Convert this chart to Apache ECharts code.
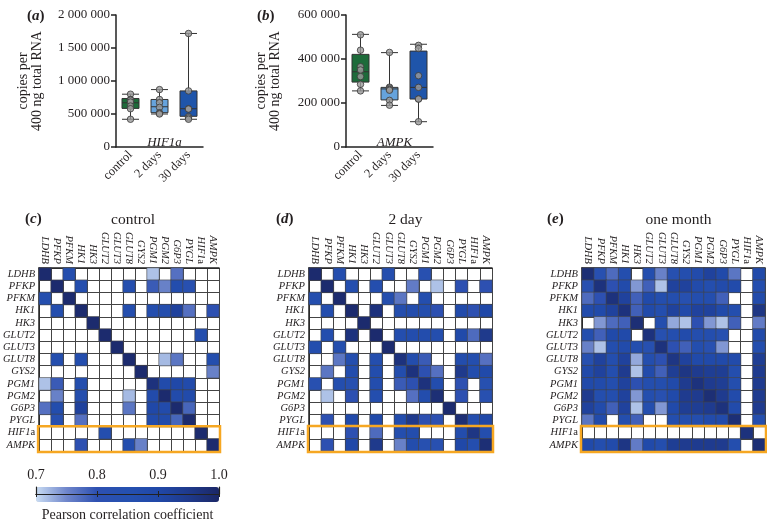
<!DOCTYPE html>
<html><head><meta charset="utf-8">
<script src="https://cdn.jsdelivr.net/npm/echarts@6/dist/echarts.min.js"></script>
<style>html,body{margin:0;padding:0;background:#fff}#c{width:767px;height:523px}</style>
</head><body><div id="c"></div>
<script>
const _ = null;
const genes = ['LDHB','PFKP','PFKM','HK1','HK3','GLUT2','GLUT3','GLUT8','GYS2','PGM1','PGM2','G6P3','PYGL','HIF1a','AMPK'];
const groups = ['control','2 days','30 days'];
// boxplot stats: [min, Q1, median, Q3, max]
const hif1aBox = [[420000,585000,670000,735000,800000],[500000,520000,610000,720000,870000],[420000,465000,580000,850000,1720000]];
const hif1aPoints = [[800000,720000,710000,680000,620000,580000,420000],[870000,720000,670000,600000,520000,510000,500000],[1720000,850000,580000,575000,460000,440000,420000]];
const ampkBox = [[255000,295000,342000,421000,512000],[189000,214000,264000,271000,429000],[115000,218000,271000,436000,467000]];
const ampkPoints = [[510000,440000,365000,350000,320000,285000,255000],[430000,272000,268000,262000,258000,212000,190000],[462000,448000,324000,271000,218000,218000,115000]];
const hif1aTicks = [0,500000,1000000,1500000,2000000];
const ampkTicks = [0,200000,400000,600000];
const cbTicks = [0.7,0.8,0.9,1.0];

const controlCorr = [
[.99,_,.86,_,_,_,_,_,_,.715,_,.77,_,_,_],
[_,.99,_,.86,_,_,_,.86,_,.79,.755,.87,.83,_,_],
[.86,_,.99,_,_,_,_,_,_,_,_,_,_,_,_],
[_,.86,_,.99,_,_,_,.86,_,.86,.86,.92,.77,_,.8],
[_,_,_,_,.99,_,_,_,_,_,_,_,_,_,_],
[_,_,_,_,_,.99,_,_,_,_,_,_,_,.86,_],
[_,_,_,_,_,_,.99,_,_,_,_,_,_,_,_],
[_,.86,_,.86,_,_,_,.99,_,_,.72,.765,_,_,.86],
[_,_,_,_,_,_,_,_,.99,_,_,_,_,_,.755],
[.715,.79,_,.86,_,_,_,_,_,.97,.88,.9,.88,_,_],
[_,.755,_,.86,_,_,_,.72,_,.88,.99,.88,.88,_,_],
[.77,.87,_,.92,_,_,_,.765,_,.9,.88,.99,.78,_,_],
[_,.83,_,.77,_,_,_,_,_,.88,.88,.78,.99,_,_],
[_,_,_,_,_,.86,_,_,_,_,_,_,_,.99,_],
[_,_,_,.8,_,_,_,.86,.755,_,_,_,_,_,.99]
];
const day2Corr = [
[.99,_,.86,_,_,_,.86,_,_,.83,_,_,_,_,_],
[_,.99,_,.86,_,.86,_,_,.76,_,.715,_,.8,_,.8],
[.86,_,.99,_,_,_,.86,.765,_,.86,_,_,_,_,_],
[_,.86,_,.99,_,.97,_,.86,.87,.86,.8,_,.88,.8,.9],
[_,_,_,_,.99,_,_,_,_,_,_,_,_,_,_],
[_,.86,_,.97,_,.99,_,.86,.87,.87,.86,_,.89,.775,.95],
[.86,_,.86,_,_,_,.99,_,_,_,_,_,_,_,_],
[_,_,.765,.86,_,.86,_,.97,.87,.79,_,_,.87,.86,.77],
[_,.765,_,.87,_,.87,_,.87,.97,.8,.77,_,.95,.87,.89],
[.83,_,.86,.84,_,.87,_,.79,.8,.97,.87,_,.8,_,.84],
[_,.715,_,.8,_,.86,_,_,.77,.87,.98,_,.8,_,.83],
[_,_,_,_,_,_,_,_,_,_,_,.99,_,_,_],
[_,.8,_,.89,_,.89,_,.87,.95,.8,.8,_,.98,.86,.9],
[_,_,_,.8,_,.775,_,.86,.87,_,_,_,.87,.96,.86],
[_,.8,_,.9,_,.95,_,.755,.87,.84,.83,_,.9,.86,.98]
];
const monthCorr = [
[.98,.83,.775,.86,_,.86,.755,.84,.86,.88,.92,.89,.765,_,.89],
[.83,.97,.8,.88,.74,.785,.715,.92,.92,.88,.86,.88,.88,_,.86],
[.775,.8,.97,.92,.785,.89,.86,.86,.84,.86,.86,.785,_,_,.88],
[.88,.89,.92,.97,.785,.89,.86,.92,.89,.92,.92,.89,.86,_,.96],
[_,.74,.775,.785,.98,_,.86,.73,.715,.8,.74,.715,.785,_,.76],
[.86,.785,.89,.89,_,.97,.84,.86,.88,.86,.86,.84,_,_,.89],
[.755,.715,.86,.88,.86,.84,.97,.8,.785,.86,.83,.74,_,_,.86],
[.84,.92,.86,.92,.73,.86,.8,.96,.92,.89,.89,.89,.88,_,.935],
[.89,.92,.86,.945,.715,.88,.785,.935,.96,.945,.935,.935,.86,_,.945],
[.89,.88,.86,.92,.8,.86,.86,.89,.945,.97,.945,.935,.86,_,.945],
[.945,.86,.86,.92,.74,.86,.83,.89,.945,.945,.98,.945,.88,_,.945],
[.92,.88,.785,.92,.715,.86,.74,.89,.935,.935,.945,.97,.88,_,.945],
[.765,.88,_,.86,.785,_,_,.86,.86,.86,.88,.88,.98,_,.86],
[_,_,_,_,_,_,_,_,_,_,_,_,_,.97,_],
[.89,.86,.88,.96,.76,.89,.86,.935,.945,.945,.945,.945,.86,_,.98]
];
const panels = [
  {mat: controlCorr, title: 'control', letter: 'c'},
  {mat: day2Corr, title: '2 day', letter: 'd'},
  {mat: monthCorr, title: 'one month', letter: 'e'}
];

const SERIF = 'Liberation Serif';
const TXT = '#231f20';
const boxColors = ['#1d6b3a','#66a3dc','#1f55aa'];
const fmtSpace = v => String(v).replace(/\B(?=(\d{3})+(?!\d))/g, ' ');

const chart = echarts.init(document.getElementById('c'), null, {renderer: 'canvas'});

const heatGrids = [
  {left: 37, top: 268, width: 182, height: 183},
  {left: 309, top: 268, width: 183, height: 183},
  {left: 582, top: 268, width: 183, height: 183}
];
const boxGrids = [
  {left: 116, top: 15, width: 87, height: 132},
  {left: 346, top: 15, width: 87, height: 132}
];
const cbGrid = {left: 36, top: 487, width: 183, height: 15};

const grid = [...boxGrids, ...heatGrids, cbGrid];
const xAxis = [], yAxis = [], series = [], title = [];

// box plots
const boxDefs = [
  {box: hif1aBox, pts: hif1aPoints, max: 2000000, interval: 500000, gene: 'HIF1a', nameGap: 72, letter: 'a', lx: 27},
  {box: ampkBox, pts: ampkPoints, max: 600000, interval: 200000, gene: 'AMPK', nameGap: 64, letter: 'b', lx: 257}
];
boxDefs.forEach((d, k) => {
  xAxis.push({gridIndex: k, type: 'category', data: groups,
    axisLine: {lineStyle: {color: '#222', width: 1.5}},
    axisTick: {alignWithLabel: true, length: 5, lineStyle: {color: '#222', width: 1.5}},
    axisLabel: {rotate: 45, margin: 6, fontFamily: SERIF, fontSize: 12.5, color: TXT, interval: 0}});
  yAxis.push({gridIndex: k, type: 'value', min: 0, max: d.max, interval: d.interval,
    axisLine: {show: true, lineStyle: {color: '#222', width: 1.5}},
    axisTick: {show: true, length: 5, lineStyle: {color: '#222', width: 1.5}},
    splitLine: {show: false},
    axisLabel: {formatter: fmtSpace, fontFamily: SERIF, fontSize: 13, color: TXT, margin: 6},
    name: 'copies per\n400 ng total RNA', nameLocation: 'middle', nameGap: d.nameGap, nameRotate: 90,
    nameTextStyle: {fontFamily: SERIF, fontSize: 14, color: TXT, lineHeight: 14}});
  series.push({type: 'boxplot', xAxisIndex: k, yAxisIndex: k, boxWidth: [17, 17],
    data: d.box.map((b, i) => ({value: b, itemStyle: {color: boxColors[i], borderColor: '#333', borderWidth: 1}})),
    emphasis: {disabled: true}, z: 2});
  const pdata = [];
  d.pts.forEach((arr, i) => arr.forEach(v => pdata.push([groups[i], v])));
  series.push({type: 'scatter', xAxisIndex: k, yAxisIndex: k, data: pdata, symbolSize: 6.5,
    itemStyle: {color: '#9b9b9b', borderColor: '#3a3a3a', borderWidth: 1}, z: 5, emphasis: {disabled: true}});
  const g = boxGrids[k];
  title.push({text: d.gene, left: g.left + g.width / 2, top: g.top + g.height - 16, textAlign: 'center',
    textStyle: {fontFamily: SERIF, fontStyle: 'italic', fontWeight: 'normal', fontSize: 13, color: TXT}});
  title.push({text: '{n|(}{i|' + d.letter + '}{n|)}', left: d.lx - 5, top: 4,
    textStyle: {rich: {n: {fontFamily: SERIF, fontSize: 15, color: TXT}, i: {fontFamily: SERIF, fontStyle: 'italic', fontSize: 15, color: TXT}}}});
});

// heatmaps
const labelFmt = v => v === 'HIF1a' ? '{i|HIF1}{n|a}' : '{i|' + v + '}';
const labelRich = {i: {fontFamily: SERIF, fontStyle: 'italic', fontSize: 10.5, color: TXT}, n: {fontFamily: SERIF, fontSize: 10.5, color: TXT}};
panels.forEach((p, k) => {
  const gi = k + 2;
  xAxis.push({gridIndex: gi, type: 'category', data: genes, position: 'top',
    axisLine: {show: true, lineStyle: {color: '#222', width: 1.5}}, axisTick: {show: false},
    splitLine: {show: true, interval: 0, lineStyle: {color: '#444', width: 1}},
    axisLabel: {rotate: 90, interval: 0, margin: 4, formatter: labelFmt, rich: labelRich}});
  yAxis.push({gridIndex: gi, type: 'category', data: genes, inverse: true,
    axisLine: {show: true, lineStyle: {color: '#222', width: 1.5}}, axisTick: {show: false},
    splitLine: {show: true, interval: 0, lineStyle: {color: '#444', width: 1}},
    axisLabel: {interval: 0, margin: 4, formatter: labelFmt, rich: labelRich}});
  const data = [];
  p.mat.forEach((row, i) => row.forEach((v, j) => { if (v !== null) data.push([j, i, v]); }));
  series.push({type: 'heatmap', xAxisIndex: gi, yAxisIndex: gi, data: data,
    itemStyle: {borderColor: '#444', borderWidth: 0.6}, emphasis: {disabled: true}});
  const g = heatGrids[k];
  title.push({text: p.title, left: g.left + g.width / 2, top: 207, textAlign: 'center',
    textStyle: {fontFamily: SERIF, fontWeight: 'normal', fontSize: 15.5, color: TXT}});
  title.push({text: '{n|(}{i|' + p.letter + '}{n|)}', left: [20, 271, 542][k], top: 207,
    textStyle: {rich: {n: {fontFamily: SERIF, fontSize: 15, color: TXT}, i: {fontFamily: SERIF, fontStyle: 'italic', fontSize: 15, color: TXT}}}});
});

// colour bar axes
xAxis.push({gridIndex: 5, type: 'value', min: cbTicks[0], max: cbTicks[cbTicks.length - 1], interval: 0.1, position: 'top', z: 10,
  axisLine: {show: true, lineStyle: {color: '#222', width: 1.2}},
  axisTick: {show: true, inside: true, length: 3, lineStyle: {color: '#222'}},
  splitLine: {show: false},
  axisLabel: {formatter: v => v.toFixed(1), fontFamily: SERIF, fontSize: 14, color: TXT, margin: 5}});
xAxis.push({gridIndex: 5, type: 'value', min: cbTicks[0], max: cbTicks[cbTicks.length - 1], interval: 0.1, position: 'bottom', z: 10,
  axisLine: {show: true, lineStyle: {color: '#222', width: 1.2}},
  axisTick: {show: true, inside: true, length: 3, lineStyle: {color: '#222'}},
  splitLine: {show: false}, axisLabel: {show: false},
  name: 'Pearson correlation coefficient', nameLocation: 'middle', nameGap: 14,
  nameTextStyle: {fontFamily: SERIF, fontSize: 14, color: TXT}});
yAxis.push({gridIndex: 5, type: 'value', position: 'left', z: 10, axisLine: {show: true, lineStyle: {color: '#222', width: 1.2}}, axisTick: {show: false}, axisLabel: {show: false}, splitLine: {show: false}});
yAxis.push({gridIndex: 5, type: 'value', position: 'right', z: 10, axisLine: {show: true, lineStyle: {color: '#222', width: 1.2}}, axisTick: {show: false}, axisLabel: {show: false}, splitLine: {show: false}});

chart.setOption({
  animation: false,
  backgroundColor: '#fff',
  title: title,
  grid: grid,
  xAxis: xAxis,
  yAxis: yAxis,
  visualMap: {type: 'continuous', min: 0.7, max: 1.0, orient: 'horizontal', left: cbGrid.left, top: cbGrid.top,
    itemWidth: cbGrid.height, itemHeight: cbGrid.width, padding: 0, calculable: false, realtime: false, hoverLink: false,
    seriesIndex: [4, 5, 6], text: null, showLabel: false,
    inRange: {color: ['#c9dcf3', '#6f86cb', '#2d50b1', '#2550b0', '#2048a8', '#1f3a8c', '#1b2766']}},
  series: series
});

// orange outline around the HIF1a and AMPK rows, located through the axes
const rects = [];
panels.forEach((p, k) => {
  const gi = k + 2;
  const a = chart.convertToPixel({xAxisIndex: gi, yAxisIndex: gi}, [genes[0], 'HIF1a']);
  const b = chart.convertToPixel({xAxisIndex: gi, yAxisIndex: gi}, [genes[genes.length - 1], 'AMPK']);
  const c = chart.convertToPixel({xAxisIndex: gi, yAxisIndex: gi}, [genes[1], 'HIF1a']);
  const half = (c[0] - a[0]) / 2;
  rects.push({type: 'rect', z: 100, silent: true,
    shape: {x: a[0] - half - 1, y: a[1] - half - 0.5, width: b[0] - a[0] + 2 * half + 2, height: b[1] - a[1] + 2 * half + 1.5},
    style: {fill: null, stroke: '#f6a722', lineWidth: 2.5}});
});
chart.setOption({graphic: rects});
</script>
</body></html>
